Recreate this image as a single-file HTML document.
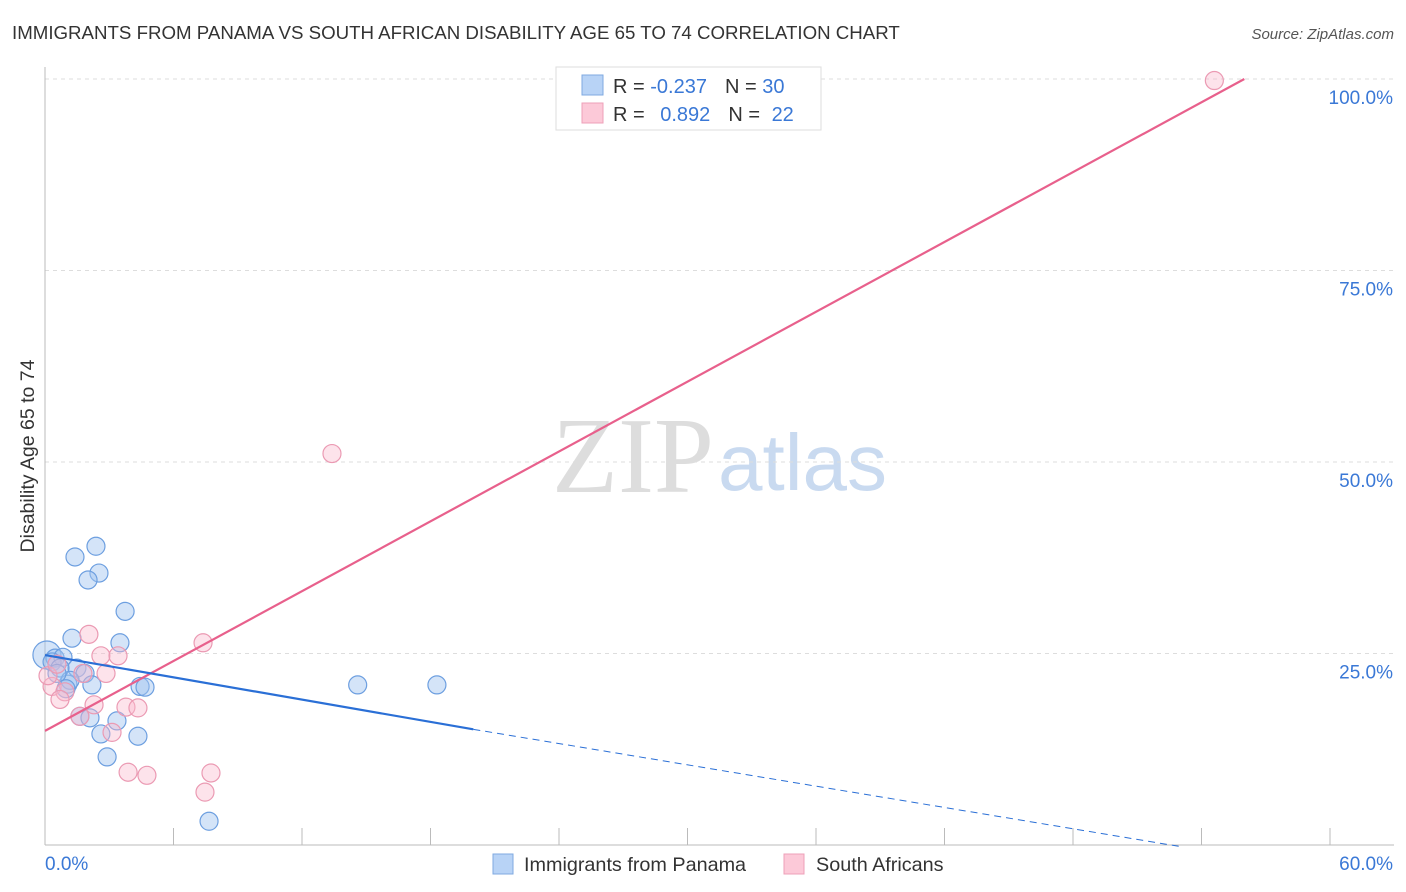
<!DOCTYPE html>
<html><head><meta charset="utf-8">
<style>
body{margin:0;background:#fff;font-family:"Liberation Sans",sans-serif;}
#wrap{position:relative;width:1406px;height:892px;overflow:hidden;}
</style></head>
<body>
<div id="wrap">
<svg id="svg" width="1406" height="892" xmlns="http://www.w3.org/2000/svg">
<text x="12" y="39" font-size="18.7" fill="#333">IMMIGRANTS FROM PANAMA VS SOUTH AFRICAN DISABILITY AGE 65 TO 74 CORRELATION CHART</text>
<text x="1394" y="39" font-size="15" fill="#555" font-style="italic" text-anchor="end">Source: ZipAtlas.com</text>
<text x="34" y="456" font-size="19.5" fill="#333" text-anchor="middle" transform="rotate(-90 34 456)">Disability Age 65 to 74</text>
<g>
<text x="552" y="492" font-size="108" fill="#ddd" font-family="Liberation Serif,serif">ZIP</text>
<text x="718" y="490" font-size="80" fill="#c9daf0">atlas</text>
</g>
<g id="grid"></g>
<g id="axes"></g>
<g id="pts"></g>
<g id="lines"></g>
<g>
<rect x="556" y="67" width="265" height="63" fill="#fff" stroke="#ddd"/>
<rect x="582" y="75" width="21" height="20" fill="#b8d3f6" stroke="#7fa9e0"/>
<rect x="582" y="103" width="21" height="20" fill="#fcc9d8" stroke="#eea0b8"/>
<text x="613" y="93" font-size="20" fill="#333">R = <tspan fill="#3a78d6">-0.237</tspan><tspan dx="18">N = </tspan><tspan fill="#3a78d6">30</tspan></text>
<text x="613" y="121" font-size="20" fill="#333">R = <tspan dx="10" fill="#3a78d6">0.892</tspan><tspan dx="18">N = </tspan><tspan dx="6" fill="#3a78d6">22</tspan></text>
</g>
<g>
<rect x="493" y="854" width="20" height="20" fill="#b8d3f6" stroke="#7fa9e0"/>
<text x="524" y="871" font-size="19.8" fill="#333">Immigrants from Panama</text>
<rect x="784" y="854" width="20" height="20" fill="#fcc9d8" stroke="#eea0b8"/>
<text x="816" y="871" font-size="19.8" fill="#333">South Africans</text>
</g>
</svg>
</div>
<script>
const xTickValues=[0,6,12,18,24,30,36,42,48,54,60];
const yTickValues=[25,50,75,100];
const yTickLabels=["25.0%","50.0%","75.0%","100.0%"];
const xEndLabels=["0.0%","60.0%"];
const blueX=[2.38,1.40,2.52,2.01,3.74,1.26,3.50,0.09,0.47,0.84,1.49,1.87,1.07,2.19,4.44,4.67,14.6,18.3,1.63,2.10,3.36,2.61,4.34,2.90,7.66,0.33,0.70,1.17,0.56,0.98];
const blueY=[39.0,37.6,35.5,34.6,30.5,27.0,26.4,24.8,24.4,24.5,23.1,22.4,21.0,20.9,20.7,20.6,20.9,20.9,16.8,16.6,16.2,14.5,14.2,11.5,3.1,23.9,23.1,21.5,22.4,20.4];
const pinkX=[54.6,13.4,2.05,7.38,2.61,3.41,2.85,1.77,0.33,0.93,0.70,2.29,3.78,4.34,1.63,3.13,3.88,4.76,7.75,7.47,0.14,0.56];
const pinkY=[99.8,51.1,27.5,26.4,24.7,24.7,22.4,22.4,20.7,20.0,19.0,18.3,18.0,17.9,16.8,14.7,9.5,9.1,9.4,6.9,22.1,23.6];
const pinkLine=[[0,14.9],[56.0,100]];
const blueSolid=[[0,24.8],[20.0,15.1]];
const blueDash=[[20.0,15.1],[53.0,-0.2]];

const NS="http://www.w3.org/2000/svg";
const X0=45,X1=1330,Y0=845,Y100=79;
function sx(v){return X0+v/60*(X1-X0);}
function sy(v){return Y0-v/100*(Y0-Y100);}
function mk(tag,attrs,parent){const e=document.createElementNS(NS,tag);for(const k in attrs)e.setAttribute(k,attrs[k]);parent.appendChild(e);return e;}
const grid=document.getElementById('grid'),axes=document.getElementById('axes'),pts=document.getElementById('pts'),lines=document.getElementById('lines');
yTickValues.forEach((v,i)=>{
  const l=mk('line',{x1:X0,x2:1394,y1:sy(v),y2:sy(v),stroke:'#ddd','stroke-dasharray':'4,4'},grid);
  
  
  const t=mk('text',{x:1393,y:sy(v)+25,'font-size':19,fill:'#3a78d6','text-anchor':'end'},axes);
  t.textContent=yTickLabels[i];
  
  
});
const yl=mk('line',{x1:X0,x2:X0,y1:67,y2:845,stroke:'#bbb'},axes);


const xl=mk('line',{x1:X0,x2:1394,y1:845,y2:845,stroke:'#bbb'},axes);


xTickValues.forEach(v=>{
  const t=mk('line',{x1:sx(v),x2:sx(v),y1:828,y2:845,stroke:'#bbb'},axes);
  
  
});
[[0,'start'],[60,'end']].forEach((a,i)=>{
  const t=mk('text',{x:i?1393:45,y:870,'font-size':19,fill:'#3a78d6','text-anchor':a[1]},axes);
  t.textContent=xEndLabels[i];
  
  
});
blueX.forEach((x,i)=>{
  const c=mk('circle',{cx:sx(x),cy:sy(blueY[i]),r:i==7?14:9,fill:'rgba(160,195,240,0.45)',stroke:'#6d9fe0','stroke-width':1.2},pts);
  
  
});
pinkX.forEach((x,i)=>{
  const c=mk('circle',{cx:sx(x),cy:sy(pinkY[i]),r:9,fill:'rgba(250,185,205,0.4)',stroke:'#eb9ab3','stroke-width':1.2},pts);
  
  
});
const pl=mk('line',{x1:sx(pinkLine[0][0]),y1:sy(pinkLine[0][1]),x2:sx(pinkLine[1][0]),y2:sy(pinkLine[1][1]),stroke:'#e8608c','stroke-width':2.2},lines);


const bl=mk('line',{x1:sx(blueSolid[0][0]),y1:sy(blueSolid[0][1]),x2:sx(blueSolid[1][0]),y2:sy(blueSolid[1][1]),stroke:'#2a6fd6','stroke-width':2.2},lines);


const bd=mk('line',{x1:sx(blueDash[0][0]),y1:sy(blueDash[0][1]),x2:sx(blueDash[1][0]),y2:sy(blueDash[1][1]),stroke:'#2a6fd6','stroke-width':1,'stroke-dasharray':'7,5'},lines);


</script>
</body></html>
